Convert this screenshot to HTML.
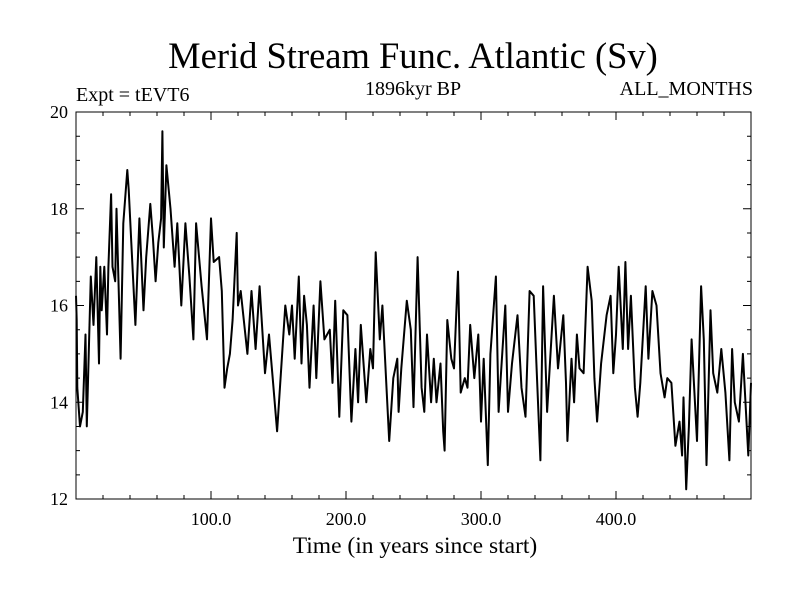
<!DOCTYPE html>
<html><head><meta charset="utf-8"><style>
body{margin:0;background:#fff;}
svg text{font-family:"Liberation Serif",serif;fill:#000;}
</style></head><body>
<svg id="chart" width="800" height="600" viewBox="0 0 800 600" xmlns="http://www.w3.org/2000/svg">
<rect width="800" height="600" fill="#fff"/>
<text x="413" y="68" font-size="36.5" text-anchor="middle">Merid Stream Func. Atlantic (Sv)</text>
<text x="76" y="101" font-size="20">Expt = tEVT6</text>
<text x="413" y="95" font-size="20" text-anchor="middle">1896kyr BP</text>
<text x="753" y="95" font-size="20" text-anchor="end">ALL_MONTHS</text>
<text x="415" y="553" font-size="23.5" text-anchor="middle">Time (in years since start)</text>
<g id="axes"></g>
<g id="series"></g>
</svg>
<script>
const years=[0,0.5,1,3,5,7,8,11,13,15,17,18,19,21,23,24,26,27,29,30,33,35,38,39,41,44,47,50,52,55,57,59,61,63,64,65,67,70,73,75,78,81,84,87,89,93,97,100,102,106,108,110,112,114,116,119,120,122,127,130,133,136,140,143,146,149,152,155,158,160,162,165,167,169,171,173,176,178,181,184,188,190,192,195,198,201,204,207,209,211,215,218,220,222,225,227,230,232,235,238,239,241,245,248,250,253,256,258,260,263,265,267,270,272,273,275,278,280,283,285,288,290,292,295,298,300,302,305,307,311,313,315,318,320,323,327,330,333,336,339,341,344,346,349,354,357,361,363,364,367,369,371,373,376,379,382,384,386,389,393,396,398,400,402,405,407,409,411,414,416,418,422,424,427,430,433,436,438,441,444,447,449,450,452,454,456,460,463,465,467,470,472,475,478,481,484,486,488,491,494,498,500];
const values=[16.2,15.7,14.3,13.5,13.8,15.4,13.5,16.6,15.6,17.0,14.8,16.8,15.9,16.8,15.4,16.8,18.3,16.8,16.5,18.0,14.9,17.7,18.8,18.4,17.3,15.6,17.8,15.9,17.0,18.1,17.4,16.5,17.3,17.8,19.6,17.2,18.9,18.0,16.8,17.7,16.0,17.7,16.6,15.3,17.7,16.4,15.3,17.8,16.9,17.0,16.3,14.3,14.7,15.0,15.7,17.5,16.0,16.3,15.0,16.3,15.1,16.4,14.6,15.4,14.4,13.4,14.7,16.0,15.4,16.0,14.9,16.6,14.8,16.2,15.6,14.3,16.0,14.5,16.5,15.3,15.5,14.4,16.1,13.7,15.9,15.8,13.6,15.1,14.0,15.6,14.0,15.1,14.7,17.1,15.3,16.0,14.3,13.2,14.5,14.9,13.8,14.7,16.1,15.5,13.9,17.0,14.3,13.8,15.4,14.0,14.9,14.0,14.8,13.4,13.0,15.7,14.9,14.7,16.7,14.2,14.5,14.3,15.6,14.5,15.4,13.6,14.9,12.7,15.0,16.6,13.8,14.7,16.0,13.8,14.8,15.8,14.3,13.7,16.3,16.2,14.8,12.8,16.4,13.8,16.2,14.7,15.8,14.4,13.2,14.9,14.0,15.4,14.7,14.6,16.8,16.1,14.5,13.6,14.8,15.8,16.2,14.6,15.4,16.8,15.1,16.9,15.1,16.2,14.3,13.7,14.4,16.4,14.9,16.3,16.0,14.6,14.1,14.5,14.4,13.1,13.6,12.9,14.1,12.2,13.5,15.3,13.2,16.4,15.3,12.7,15.9,14.6,14.2,15.1,14.2,12.8,15.1,14.0,13.6,15.0,12.9,14.4];
const yTickLabels=["12","14","16","18","20"];
const xTickLabels=["100.0","200.0","300.0","400.0"];

const L=76,R=751,T=112,B=499,X0=0,X1=500,Y0=12,Y1=20;
const sx=v=>L+(v-X0)/(X1-X0)*(R-L);
const sy=v=>B-(v-Y0)/(Y1-Y0)*(B-T);
const NS="http://www.w3.org/2000/svg";
const axes=document.getElementById('axes');
function mk(tag,attrs,parent){const e=document.createElementNS(NS,tag);for(const k in attrs)e.setAttribute(k,attrs[k]);parent.appendChild(e);return e;}
const frame=mk('rect',{x:L,y:T,width:R-L,height:B-T,fill:'none',stroke:'#000','stroke-width':1},axes);


let d='';
for(let v=Y0;v<=Y1+1e-9;v+=0.5){const maj=Math.abs(v-Math.round(v/2)*2)<1e-9;const len=maj?8:4;const y=sy(v);d+=`M${L},${y}h${len}M${R},${y}h${-len}`;}
for(let v=20;v<X1;v+=20){const maj=v%100===0;const len=maj?8:4;const x=sx(v);d+=`M${x},${B}v${-len}M${x},${T}v${len}`;}
const ticks=mk('path',{d:d,stroke:'#000','stroke-width':1,fill:'none'},axes);


yTickLabels.forEach(s=>{const t=mk('text',{x:L-8,y:sy(parseFloat(s))+6,'font-size':18,'text-anchor':'end'},axes);t.textContent=s;

});
xTickLabels.forEach(s=>{const t=mk('text',{x:sx(parseFloat(s)),y:B+26,'font-size':18,'text-anchor':'middle'},axes);t.textContent=s;

});
const pts=years.map((yr,i)=>sx(yr).toFixed(1)+','+sy(values[i]).toFixed(1)).join(' ');
const line=mk('polyline',{points:pts,fill:'none',stroke:'#000','stroke-width':2,'stroke-linejoin':'round'},document.getElementById('series'));


</script>
</body></html>
